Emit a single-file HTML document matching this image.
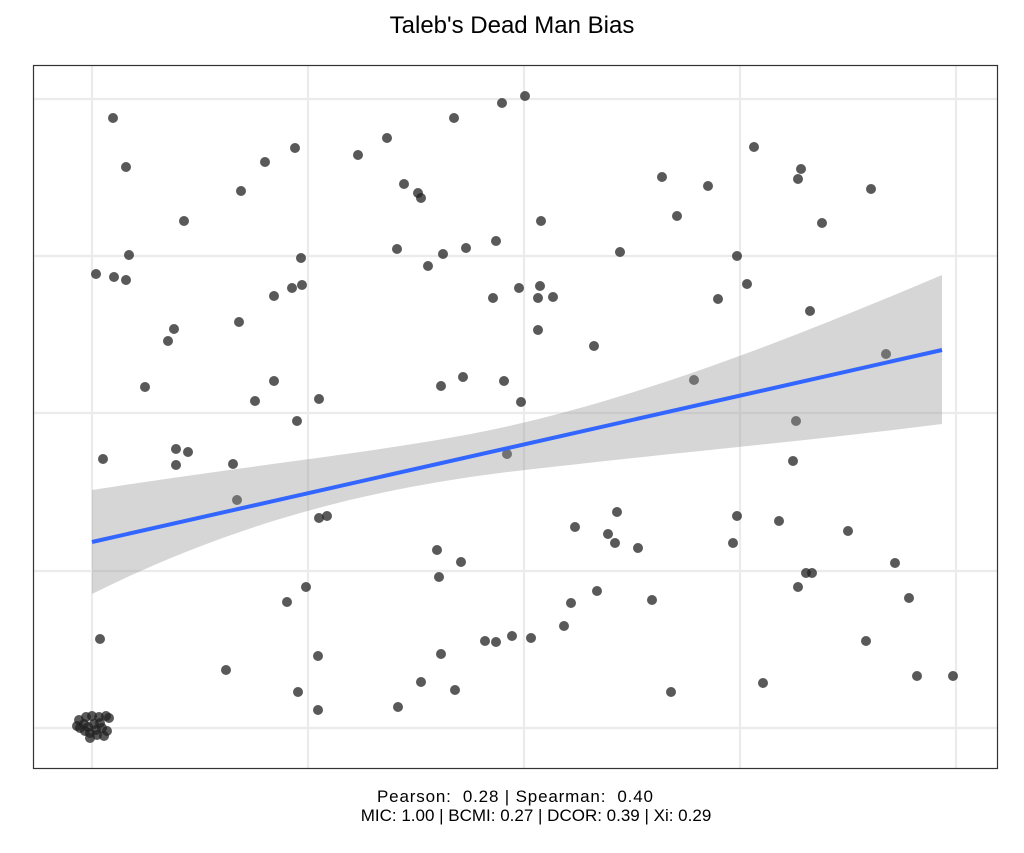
<!DOCTYPE html>
<html><head><meta charset="utf-8"><style>
body{margin:0;background:#fff;}
svg{display:block;font-family:"Liberation Sans",Arial,sans-serif;}
</style></head><body>
<svg width="1024" height="853" viewBox="0 0 1024 853">
<rect width="1024" height="853" fill="#fff"/>
<text x="512" y="33" text-anchor="middle" font-size="24" fill="#000">Taleb's Dead Man Bias</text>
<g stroke="#ebebeb" stroke-width="2.2">
<line x1="33" x2="998" y1="99" y2="99"/><line x1="33" x2="998" y1="256" y2="256"/>
<line x1="33" x2="998" y1="413" y2="413"/><line x1="33" x2="998" y1="571" y2="571"/>
<line x1="33" x2="998" y1="728" y2="728"/>
<line y1="65" y2="769" x1="92" x2="92"/><line y1="65" y2="769" x1="308" x2="308"/>
<line y1="65" y2="769" x1="524" x2="524"/><line y1="65" y2="769" x1="740" x2="740"/>
<line y1="65" y2="769" x1="956" x2="956"/>
</g>
<g fill="#222" fill-opacity="0.75">
<circle cx="113" cy="118" r="5"/><circle cx="126" cy="167" r="5"/><circle cx="96" cy="274" r="5"/><circle cx="114" cy="277" r="5"/><circle cx="126" cy="280" r="5"/><circle cx="129" cy="255" r="5"/><circle cx="184" cy="221" r="5"/><circle cx="241" cy="191" r="5"/><circle cx="265" cy="162" r="5"/><circle cx="295" cy="148" r="5"/><circle cx="358" cy="155" r="5"/><circle cx="387" cy="138" r="5"/><circle cx="404" cy="184" r="5"/><circle cx="418" cy="193" r="5"/><circle cx="421" cy="198" r="5"/><circle cx="454" cy="118" r="5"/><circle cx="502" cy="103" r="5"/><circle cx="525" cy="96" r="5"/><circle cx="541" cy="221" r="5"/><circle cx="496" cy="241" r="5"/><circle cx="466" cy="248" r="5"/><circle cx="443" cy="254" r="5"/><circle cx="428" cy="266" r="5"/><circle cx="397" cy="249" r="5"/><circle cx="301" cy="258" r="5"/><circle cx="302" cy="285" r="5"/><circle cx="292" cy="288" r="5"/><circle cx="274" cy="296" r="5"/><circle cx="239" cy="322" r="5"/><circle cx="174" cy="329" r="5"/><circle cx="168" cy="341" r="5"/><circle cx="145" cy="387" r="5"/><circle cx="274" cy="381" r="5"/><circle cx="255" cy="401" r="5"/><circle cx="319" cy="399" r="5"/><circle cx="297" cy="421" r="5"/><circle cx="441" cy="386" r="5"/><circle cx="463" cy="377" r="5"/><circle cx="504" cy="381" r="5"/><circle cx="493" cy="298" r="5"/><circle cx="519" cy="288" r="5"/><circle cx="540" cy="286" r="5"/><circle cx="538" cy="298" r="5"/><circle cx="553" cy="297" r="5"/><circle cx="538" cy="330" r="5"/><circle cx="594" cy="346" r="5"/><circle cx="521" cy="402" r="5"/><circle cx="507" cy="454" r="5"/><circle cx="620" cy="252" r="5"/><circle cx="662" cy="177" r="5"/><circle cx="677" cy="216" r="5"/><circle cx="708" cy="186" r="5"/><circle cx="754" cy="147" r="5"/><circle cx="737" cy="256" r="5"/><circle cx="747" cy="284" r="5"/><circle cx="718" cy="299" r="5"/><circle cx="801" cy="169" r="5"/><circle cx="798" cy="179" r="5"/><circle cx="822" cy="223" r="5"/><circle cx="871" cy="189" r="5"/><circle cx="810" cy="311" r="5"/><circle cx="886" cy="354" r="5"/><circle cx="694" cy="380" r="5"/><circle cx="796" cy="421" r="5"/><circle cx="103" cy="459" r="5"/><circle cx="176" cy="449" r="5"/><circle cx="188" cy="452" r="5"/><circle cx="176" cy="465" r="5"/><circle cx="233" cy="464" r="5"/><circle cx="237" cy="500" r="5"/><circle cx="319" cy="518" r="5"/><circle cx="327" cy="516" r="5"/><circle cx="437" cy="550" r="5"/><circle cx="461" cy="562" r="5"/><circle cx="439" cy="577" r="5"/><circle cx="306" cy="587" r="5"/><circle cx="287" cy="602" r="5"/><circle cx="100" cy="639" r="5"/><circle cx="318" cy="656" r="5"/><circle cx="226" cy="670" r="5"/><circle cx="298" cy="692" r="5"/><circle cx="318" cy="710" r="5"/><circle cx="398" cy="707" r="5"/><circle cx="421" cy="682" r="5"/><circle cx="441" cy="654" r="5"/><circle cx="455" cy="690" r="5"/><circle cx="485" cy="641" r="5"/><circle cx="496" cy="642" r="5"/><circle cx="512" cy="636" r="5"/><circle cx="531" cy="638" r="5"/><circle cx="564" cy="626" r="5"/><circle cx="571" cy="603" r="5"/><circle cx="597" cy="591" r="5"/><circle cx="575" cy="527" r="5"/><circle cx="608" cy="534" r="5"/><circle cx="617" cy="512" r="5"/><circle cx="615" cy="543" r="5"/><circle cx="638" cy="548" r="5"/><circle cx="652" cy="600" r="5"/><circle cx="671" cy="692" r="5"/><circle cx="733" cy="543" r="5"/><circle cx="737" cy="516" r="5"/><circle cx="763" cy="683" r="5"/><circle cx="779" cy="521" r="5"/><circle cx="793" cy="461" r="5"/><circle cx="798" cy="587" r="5"/><circle cx="806" cy="573" r="5"/><circle cx="812" cy="573" r="5"/><circle cx="848" cy="531" r="5"/><circle cx="866" cy="641" r="5"/><circle cx="895" cy="563" r="5"/><circle cx="909" cy="598" r="5"/><circle cx="917" cy="676" r="5"/><circle cx="953" cy="676" r="5"/>
<circle cx="79" cy="720" r="5"/><circle cx="86" cy="717" r="5"/><circle cx="92" cy="716" r="5"/><circle cx="99" cy="717" r="5"/><circle cx="106" cy="716" r="5"/><circle cx="109" cy="718" r="5"/><circle cx="80" cy="728" r="5"/><circle cx="85" cy="731" r="5"/><circle cx="90" cy="733" r="5"/><circle cx="96" cy="730" r="5"/><circle cx="102" cy="728" r="5"/><circle cx="107" cy="731" r="5"/><circle cx="84" cy="724" r="5"/><circle cx="94" cy="724" r="5"/><circle cx="100" cy="723" r="5"/><circle cx="104" cy="736" r="5"/><circle cx="90" cy="738" r="5"/><circle cx="77" cy="726" r="5"/><circle cx="97" cy="735" r="5"/><circle cx="88" cy="727" r="5"/>
</g>
<path d="M92,490 C250,465 400,450 500,428 C650,395 800,335 942,275 L942,424 C800,442 650,455 500,473 C350,492 220,530 92,594 Z" fill="#999" fill-opacity="0.4"/>
<line x1="92" y1="542" x2="942" y2="350" stroke="#3366ff" stroke-width="4"/>
<rect x="33.5" y="65.5" width="964" height="703" fill="none" stroke="#333" stroke-width="1.2"/>
<text x="515" y="802" text-anchor="middle" font-size="17" fill="#000" xml:space="preserve" textLength="276" lengthAdjust="spacing">Pearson:  0.28 | Spearman:  0.40</text>
<text x="536" y="821" text-anchor="middle" font-size="17" fill="#000">MIC: 1.00 | BCMI: 0.27 | DCOR: 0.39 | Xi: 0.29</text>
</svg>
</body></html>
